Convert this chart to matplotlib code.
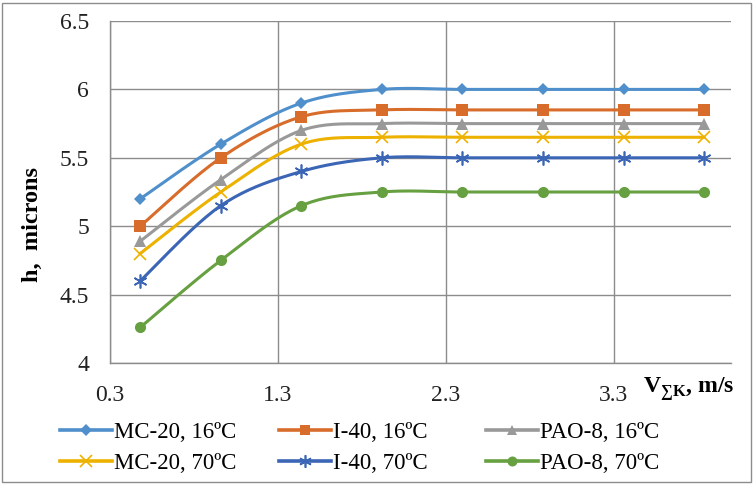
import numpy as np
import matplotlib
matplotlib.use("Agg")
import matplotlib.pyplot as plt
from matplotlib.lines import Line2D
from matplotlib.patches import Rectangle

plt.rcParams['font.family'] = ['Liberation Serif', 'DejaVu Serif']
plt.rcParams['mathtext.fontset'] = 'custom'
plt.rcParams['mathtext.rm'] = 'Liberation Serif'
plt.rcParams['mathtext.bf'] = 'Liberation Serif:bold'

# ---- data ----
velocity = [0.48, 0.96, 1.44, 1.92, 2.40, 2.88, 3.36, 3.84]
mc20_16 = [5.20, 5.60, 5.90, 6.00, 6.00, 6.00, 6.00, 6.00]
i40_16 = [5.00, 5.50, 5.80, 5.85, 5.85, 5.85, 5.85, 5.85]
pao8_16 = [4.89, 5.34, 5.70, 5.75, 5.75, 5.75, 5.75, 5.75]
mc20_70 = [4.80, 5.25, 5.60, 5.65, 5.65, 5.65, 5.65, 5.65]
i40_70 = [4.60, 5.15, 5.40, 5.50, 5.50, 5.50, 5.50, 5.50]
pao8_70 = [4.26, 4.75, 5.15, 5.25, 5.25, 5.25, 5.25, 5.25]
labels = ["MC-20, 16ºC", "I-40, 16ºC", "PAO-8, 16ºC",
          "MC-20, 70ºC", "I-40, 70ºC", "PAO-8, 70ºC"]
x_ticks = [0.3, 1.3, 2.3, 3.3]
y_ticks = [4, 4.5, 5, 5.5, 6, 6.5]
y_ticklabels = ["4", "4.5", "5", "5.5", "6", "6.5"]

series = [mc20_16, i40_16, pao8_16, mc20_70, i40_70, pao8_70]
colors = ['#4F8FCB', '#D86C2A', '#999999', '#EDB100', '#3B65B5', '#66A040']
markers = ['D', 's', '^', 'x', (6, 2, 0), 'o']
msizes = [6.5, 8, 8, 9, 10, 8]


def smooth(x, y, n=24):
    """Excel-like smoothed line (cardinal Bezier through the points)."""
    x = np.asarray(x, float)
    y = np.asarray(y, float)
    P = np.column_stack([x, y])
    out = [P[0]]
    t = np.linspace(0, 1, n)[1:]
    for i in range(len(P) - 1):
        p0 = P[i - 1] if i > 0 else P[i]
        p1 = P[i]
        p2 = P[i + 1]
        p3 = P[i + 2] if i + 2 < len(P) else P[i + 1]
        c1 = p1 + (p2 - p0) / 6.0
        c2 = p2 - (p3 - p1) / 6.0
        seg = ((1 - t) ** 3)[:, None] * p1 + (3 * (1 - t) ** 2 * t)[:, None] * c1 \
            + (3 * (1 - t) * t ** 2)[:, None] * c2 + (t ** 3)[:, None] * p2
        out.extend(seg)
    out = np.array(out)
    return out[:, 0], out[:, 1]


W, H = 754, 484
fig = plt.figure(figsize=(W / 100, H / 100), dpi=100)
L, R, T, B = 110, 731, 21, 363
ax = fig.add_axes([L / W, 1 - B / H, (R - L) / W, (B - T) / H])

for ys, c, m, ms in zip(series, colors, markers, msizes):
    sx, sy = smooth(velocity, ys)
    ax.plot(sx, sy, color=c, lw=2.2, solid_capstyle='round', zorder=3)
    mew = 1.2 if m in ('x',) or isinstance(m, tuple) else 0
    ax.plot(velocity, ys, linestyle='none', marker=m, ms=ms, color=c,
            markeredgecolor=c, markeredgewidth=mew, zorder=4)

ax.set_xlim(0.3, 4.0)
ax.set_ylim(4, 6.5)
ax.set_xticks(x_ticks)
ax.set_xticklabels([f"{v:.1f}" for v in x_ticks])
ax.set_yticks(y_ticks)
ax.set_yticklabels(y_ticklabels)
ax.tick_params(length=0, labelsize=17, colors='#222222')
ax.tick_params(axis='y', pad=15)
ax.tick_params(axis='x', pad=16)
ax.grid(True, color='#8C8C8C', lw=1)
ax.set_axisbelow(True)
for s in ['right', 'top']:
    ax.spines[s].set_visible(False)
for s in ['left', 'bottom']:
    ax.spines[s].set_color('#8C8C8C')
    ax.spines[s].set_linewidth(1)

fig.text(32 / W, 1 - 225 / H, "h,  microns", rotation=90, ha='center',
         va='center', fontsize=17.5, fontweight='bold')
fig.text(643 / W, 1 - 389 / H, r"$\mathbf{V}_{\mathbf{∑K}}$" + ", m/s",
         ha='left', va='center', fontsize=17, fontweight='bold')

# legend: three columns of two rows
handles = [Line2D([], [], color=c, lw=2.6, marker=m, ms=ms * 0.9,
                  markeredgewidth=(1.2 if (m == 'x' or isinstance(m, tuple)) else 0))
           for c, m, ms in zip(colors, markers, msizes)]
col_x = [60, 279, 486]
for k in range(3):
    fig.legend([handles[k], handles[k + 3]], [labels[k], labels[k + 3]],
               loc='upper left', bbox_to_anchor=(col_x[k] / W, 1 - 422 / H),
               frameon=False, fontsize=16.5, handlelength=2.25,
               handletextpad=0.1, labelspacing=0.42, borderpad=0,
               borderaxespad=0)

fig.patches.append(Rectangle((2 / W, 2 / H), (W - 5) / W, (H - 5) / H,
                             transform=fig.transFigure, fill=False,
                             edgecolor='#8C8C8C', lw=1))

fig.savefig("out.png", dpi=100)
